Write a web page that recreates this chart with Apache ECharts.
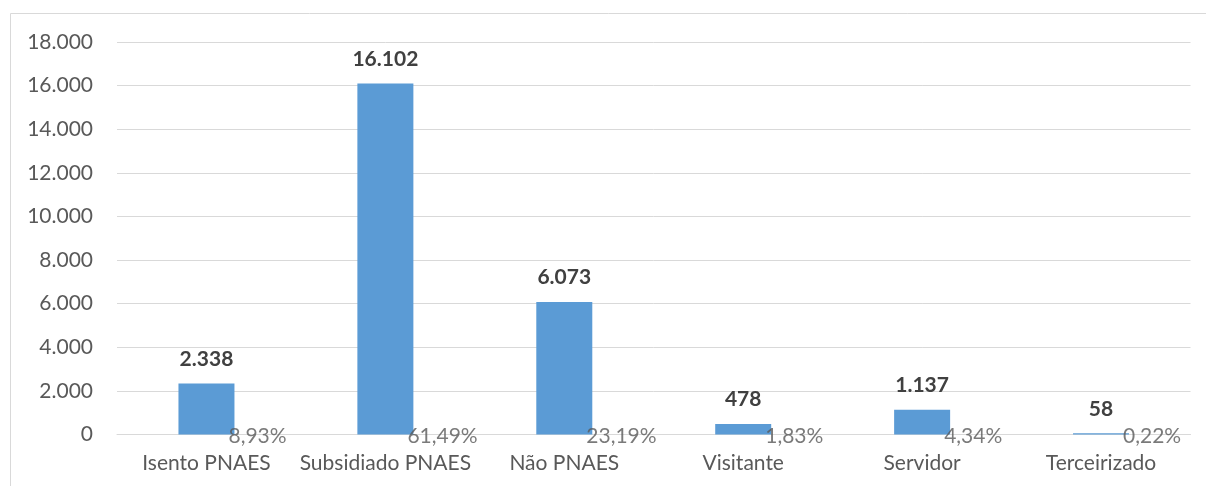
<!DOCTYPE html>
<html>
<head>
<meta charset="utf-8">
<script src="https://cdn.jsdelivr.net/npm/echarts@6/dist/echarts.min.js"></script>
<style>
  html, body { margin: 0; padding: 0; background: #fff; }
  #chart { width: 1206px; height: 486px; }
</style>
</head>
<body>
<div id="chart"></div>
<script>
const categories = ['Isento PNAES', 'Subsidiado PNAES', 'Não PNAES', 'Visitante', 'Servidor', 'Terceirizado']
const totals = [2338, 16102, 6073, 478, 1137, 58]
const percents = [8.93, 61.49, 23.19, 1.83, 4.34, 0.22]

const fontFamily = 'Lato, "Open Sans", sans-serif'

// 16102 -> 16.102
function fmtNum (v) {
  return String(v).replace(/\B(?=(\d{3})+(?!\d))/g, '.')
}

const mychart = echarts.init(document.getElementById('chart'))
const option = {
  animation: false,
  textStyle: { fontFamily: fontFamily },
  graphic: [{
    type: 'rect',
    shape: { x: 10.5, y: 13.5, width: 1300, height: 600 },
    style: { fill: 'none', stroke: '#d9d9d9', lineWidth: 1 }
  }],
  grid: {
    left: 117,
    right: 15.5,
    top: 42,
    bottom: 51.5
  },
  xAxis: {
    type: 'category',
    data: categories,
    axisLine: { lineStyle: { color: '#d9d9d9' } },
    axisTick: { show: false },
    axisLabel: {
      interval: 0,
      color: '#595959',
      fontSize: 21,
      margin: 18,
      fontFamily: fontFamily
    }
  },
  yAxis: {
    type: 'value',
    min: 0,
    max: 18000,
    interval: 2000,
    axisLine: { show: false },
    axisTick: { show: false },
    splitLine: { lineStyle: { color: '#d9d9d9', width: 1 } },
    axisLabel: {
      color: '#595959',
      fontSize: 21,
      margin: 24,
      fontFamily: fontFamily,
      formatter: fmtNum
    }
  },
  series: [
    {
      name: 'Total',
      type: 'bar',
      data: totals,
      barWidth: 56,
      itemStyle: { color: '#5b9bd5' },
      label: {
        show: true,
        position: 'top',
        distance: 14,
        color: '#404040',
        fontSize: 21,
        fontWeight: 'bold',
        fontFamily: fontFamily,
        formatter: p => fmtNum(p.value)
      }
    },
    {
      name: 'Percentual',
      type: 'scatter',
      data: categories.map((c, i) => [c, 0, percents[i]]),
      symbolSize: 0,
      silent: true,
      label: {
        show: true,
        position: 'right',
        distance: 22,
        offset: [0, 2],
        color: '#595959',
        fontSize: 21,
        fontFamily: fontFamily,
        formatter: p => p.value[2].toFixed(2).replace('.', ',') + '%'
      }
    }
  ]
}
mychart.setOption(option)
window.addEventListener('resize', function () {
  mychart.resize()
})
</script>
</body>
</html>
